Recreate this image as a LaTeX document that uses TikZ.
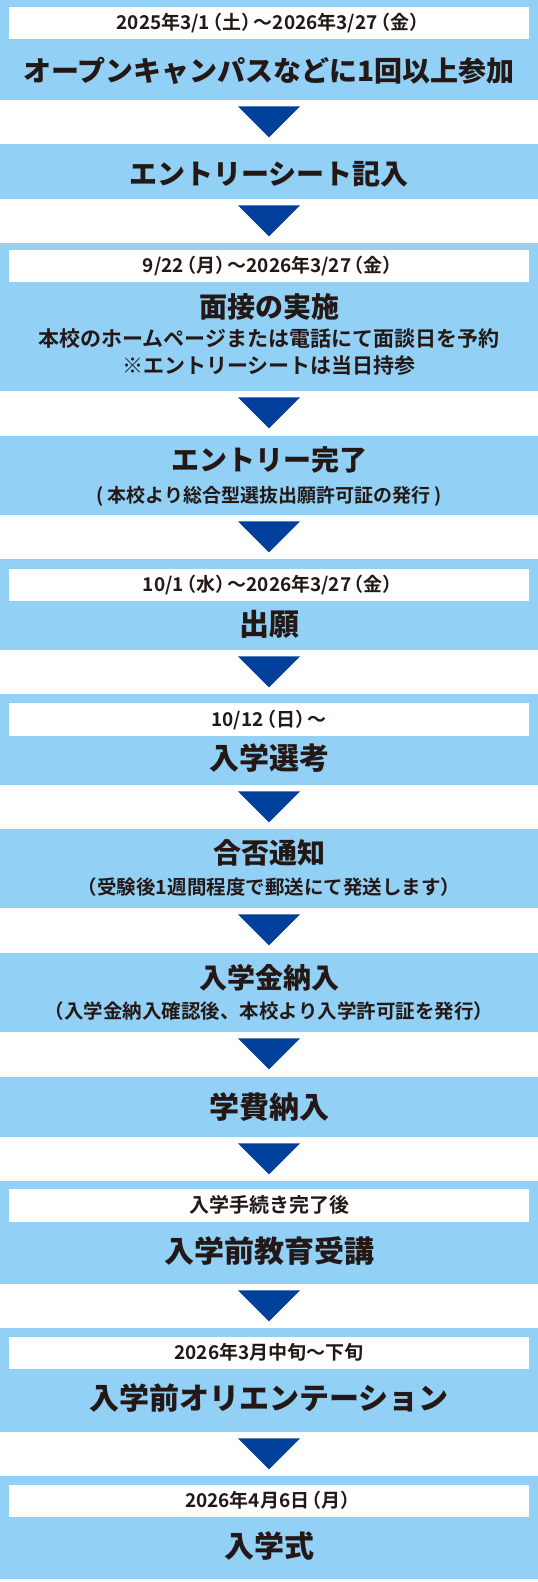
\documentclass[tikz,border=0pt]{standalone}
\usepackage{fontspec}
\usetikzlibrary{calc}
\newfontfamily\jpb{Noto Sans CJK JP Black}
\newfontfamily\jpm{Noto Sans CJK JP Bold}
\definecolor{lblue}{HTML}{93D0F5}
\definecolor{dblue}{HTML}{00409A}
\definecolor{txt}{HTML}{231815}
\newcommand\LP{\kern-0.35em（}
\newcommand\RP{）\kern-0.35em}
\tikzset{
  box/.style={fill=lblue, draw=none, minimum width=538pt, inner sep=0pt, anchor=north},
  strip/.style={fill=white, draw=none, minimum width=520pt, inner sep=0pt, anchor=north},
  ttl/.style={font=\jpb\fontsize{#1}{#1}\selectfont, text=txt, inner sep=0pt, anchor=base},
  sub/.style={font=\jpm\fontsize{#1}{#1}\selectfont, text=txt, inner sep=0pt, anchor=base},
  tri/.style={fill=dblue, draw=none}
}
\begin{document}
\begin{tikzpicture}[x=1pt,y=-1pt]
\useasboundingbox (0,0) rectangle (538,1582);
\fill[white] (0,0) rectangle (538,1582);
% boxes
\node[box, minimum height=100pt] (b1) at (269,0) {};
\node[box, minimum height=55pt] (b2) at (269,144) {};
\node[box, minimum height=148pt] (b3) at (269,243) {};
\node[box, minimum height=79pt] (b4) at (269,436) {};
\node[box, minimum height=91pt] (b5) at (269,559) {};
\node[box, minimum height=91pt] (b6) at (269,694) {};
\node[box, minimum height=79pt] (b7) at (269,829) {};
\node[box, minimum height=79pt] (b8) at (269,953) {};
\node[box, minimum height=60pt] (b9) at (269,1077) {};
\node[box, minimum height=103pt] (b10) at (269,1181) {};
\node[box, minimum height=104pt] (b11) at (269,1328) {};
\node[box, minimum height=103pt] (b12) at (269,1476) {};
% white strips
\node[strip, minimum height=32pt] (s1) at (269,7) {};
\node[strip, minimum height=32pt] (s3) at (269,250) {};
\node[strip, minimum height=32pt] (s5) at (269,569) {};
\node[strip, minimum height=33pt] (s6) at (269,703) {};
\node[strip, minimum height=33pt] (s10) at (269,1189) {};
\node[strip, minimum height=32pt] (s11) at (269,1337) {};
\node[strip, minimum height=32pt] (s12) at (269,1485) {};
% arrows (triangles) between boxes
\foreach \a/\b in {b1/b2,b2/b3,b3/b4,b4/b5,b5/b6,b6/b7,b7/b8,b8/b9,b9/b10,b10/b11,b11/b12}{
  \fill[tri] ($(\a.south)+(-31,6)$) -- ($(\a.south)+(31,6)$) -- ($(\a.south)+(0,37)$) -- cycle;
}
% texts
\node[sub=19] (d1) at (269,29.8) {2025年3/1\LP 土\RP ～2026年3/27\LP 金\RP};
\node[ttl=28] (t1) at (269,81.4) {オープンキャンパスなどに1回以上参加};
\node[ttl=28] (t2) at (269,184) {エントリーシート記入};
\node[sub=19] (d3) at (269,272.8) {9/22\LP 月\RP ～2026年3/27\LP 金\RP};
\node[ttl=28] (t3) at (269,317.4) {面接の実施};
\node[sub=21] (l3a) at (269,346.8) {本校のホームページまたは電話にて面談日を予約};
\node[sub=21] (l3b) at (269,373.8) {※エントリーシートは当日持参};
\node[ttl=28] (t4) at (269,470.4) {エントリー完了};
\node[sub=19] (l4) at (269,502) {( 本校より総合型選抜出願許可証の発行 )};
\node[sub=19] (d5) at (269,591.8) {10/1\LP 水\RP ～2026年3/27\LP 金\RP};
\node[ttl=30] (t5) at (269,635.1) {出願};
\node[sub=19] (d6) at (269,726.3) {10/12\LP 日\RP ～};
\node[ttl=30] (t6) at (269,769.1) {入学選考};
\node[ttl=28] (t7) at (269,863.4) {合否通知};
\node[sub=19.5] (l7) at (269,894.2) {（受験後1週間程度で郵送にて発送します）};
\node[ttl=28] (t8) at (269,988.4) {入学金納入};
\node[sub=19.5] (l8) at (269,1018.2) {（入学金納入確認後、本校より入学許可証を発行）};
\node[ttl=30] (t9) at (269,1118.1) {学費納入};
\node[sub=20] (d10) at (269,1212.9) {入学手続き完了後};
\node[ttl=30] (t10) at (269,1262.6) {入学前教育受講};
\node[sub=19] (d11) at (269,1359.8) {2026年3月中旬～下旬};
\node[ttl=30] (t11) at (269,1409.6) {入学前オリエンテーション};
\node[sub=19] (d12) at (269,1507.8) {2026年4月6日\LP 月\RP};
\node[ttl=30] (t12) at (269,1557.6) {入学式};
\end{tikzpicture}
\end{document}
